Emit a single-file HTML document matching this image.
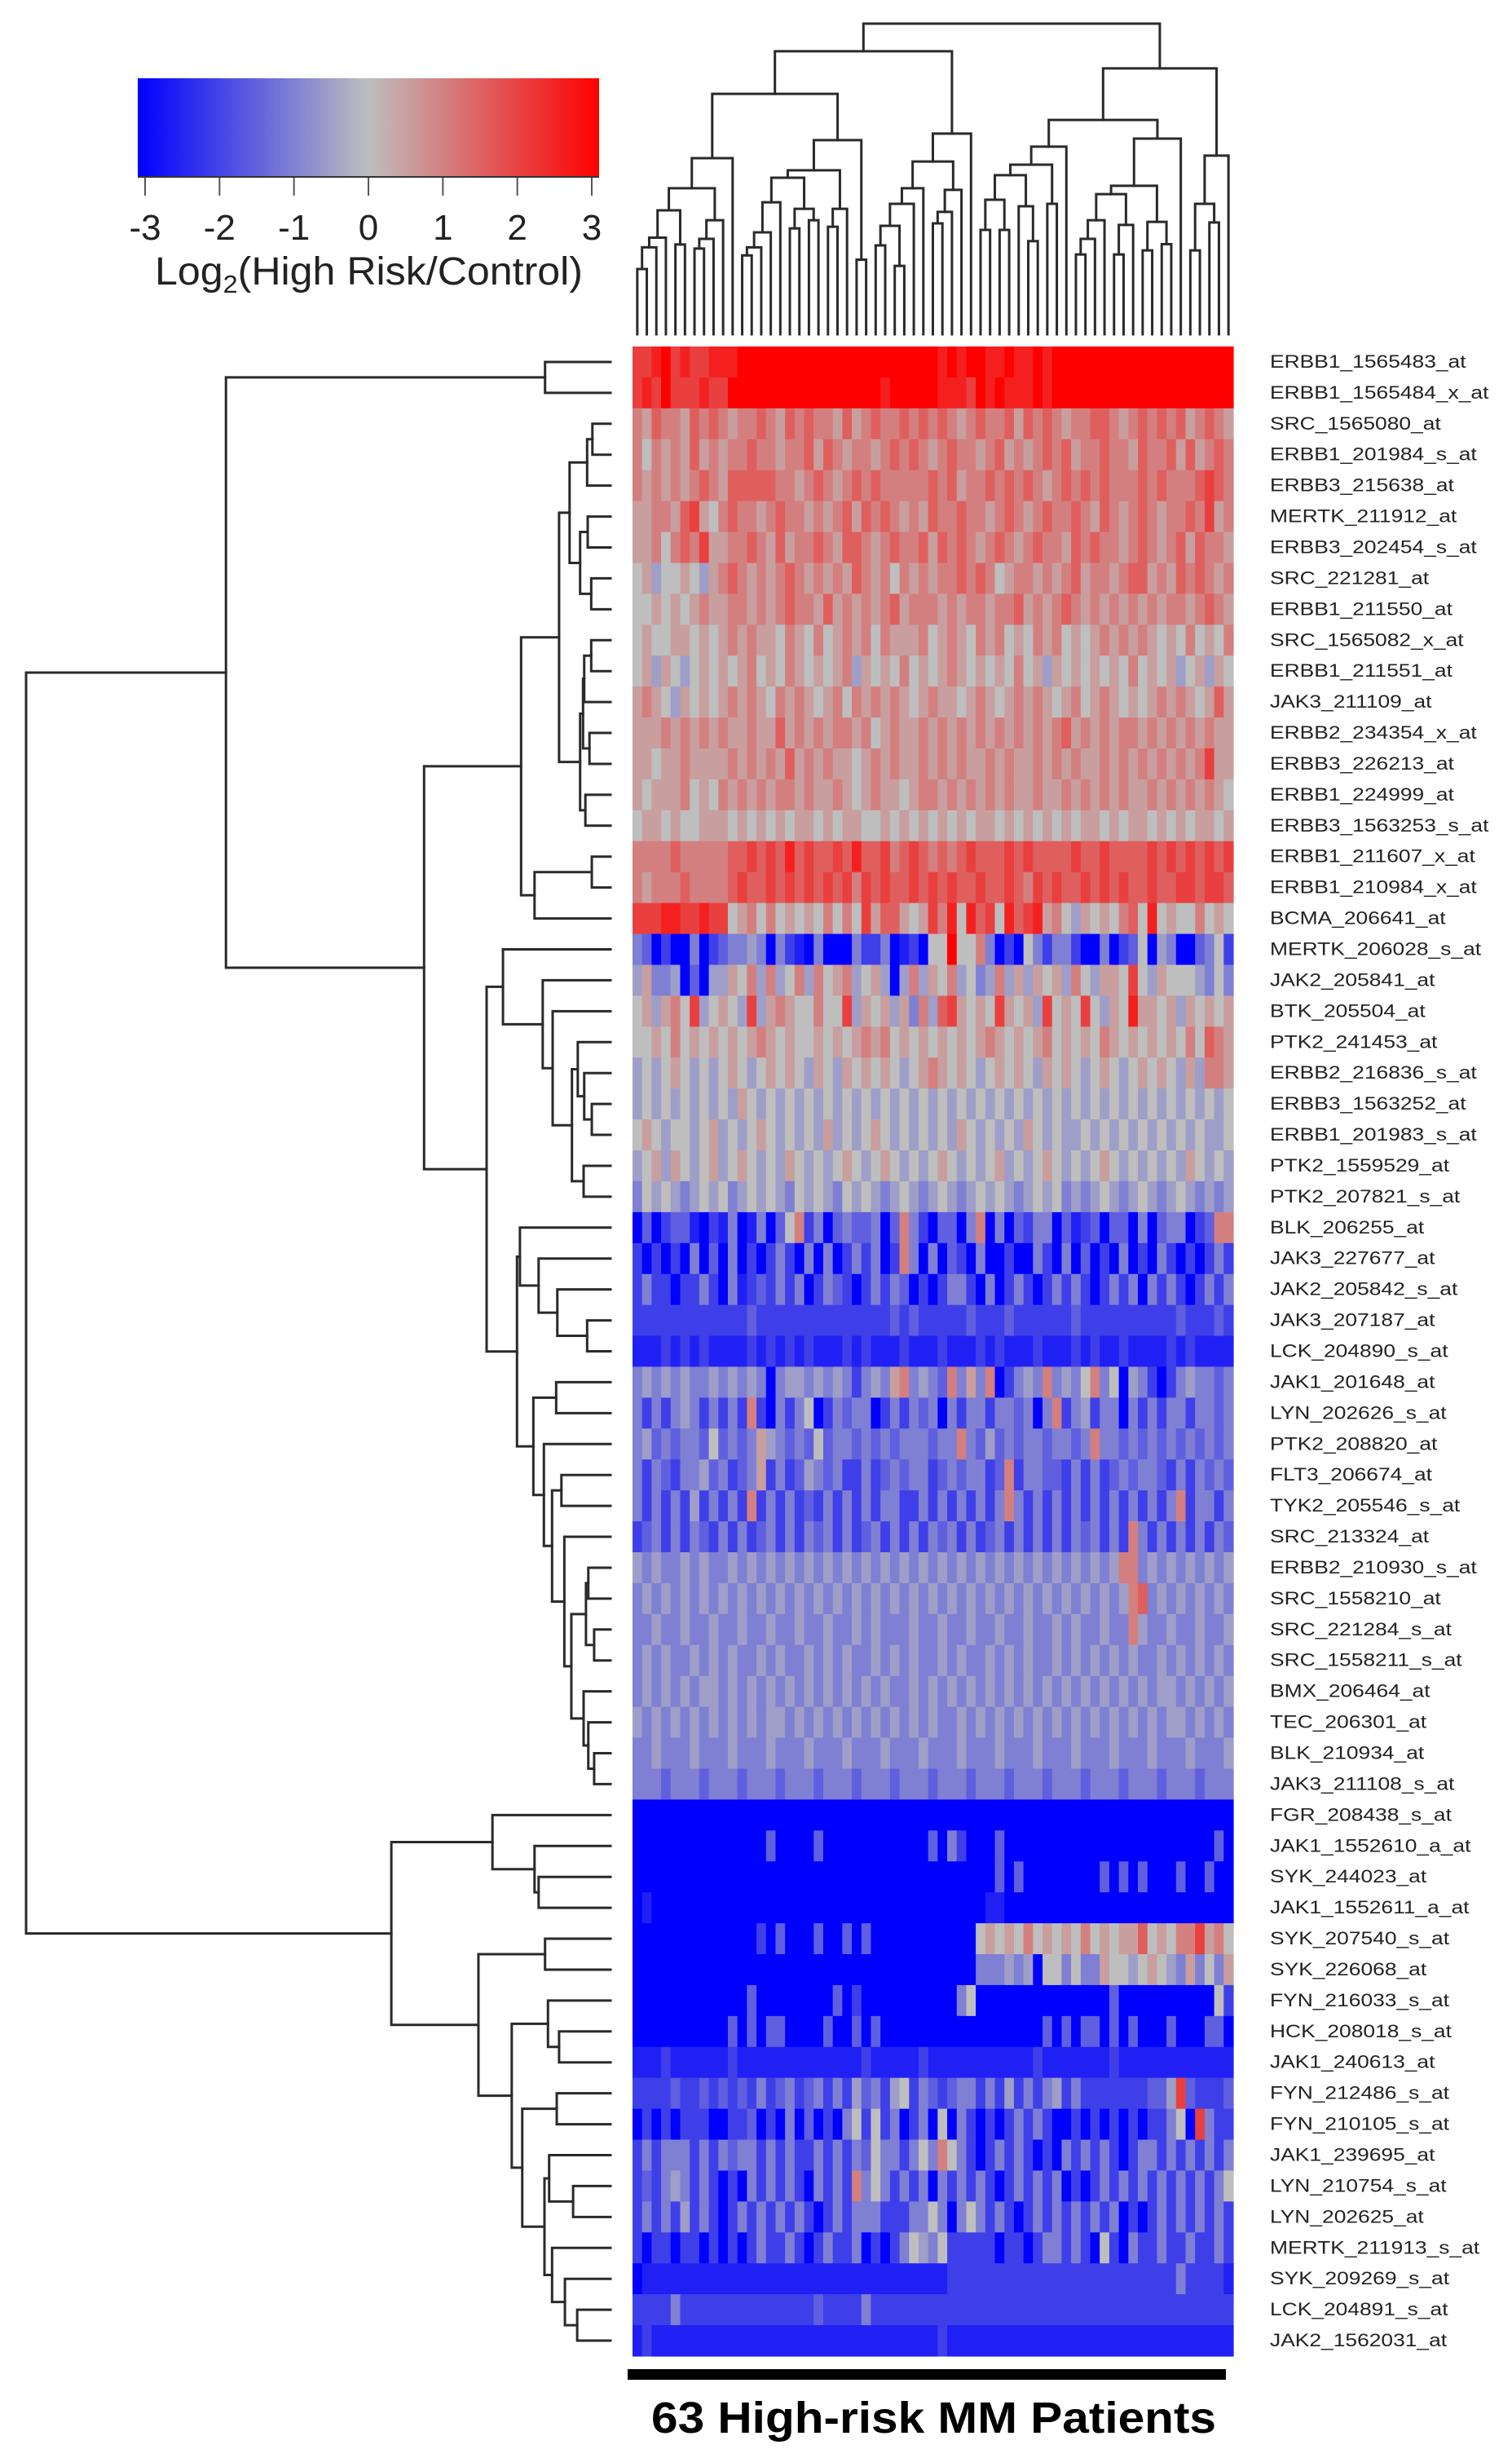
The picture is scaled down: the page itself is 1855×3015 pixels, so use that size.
<!DOCTYPE html>
<html>
<head>
<meta charset="utf-8">
<style>
  html,body{margin:0;padding:0;background:#fff;}
  svg{display:block;}
  text{font-family:"Liberation Sans", Arial, sans-serif;}
</style>
</head>
<body>
<svg id="chart" width="1855" height="3015" viewBox="0 0 1855 3015" xmlns="http://www.w3.org/2000/svg">
  <defs>
    <linearGradient id="cbar" x1="0" x2="1" y1="0" y2="0">
      <stop offset="0" stop-color="#0000ff"/>
      <stop offset="0.5" stop-color="#bebebe"/>
      <stop offset="1" stop-color="#ff0000"/>
    </linearGradient>
  </defs>
  <g>
    <rect x="169" y="96" width="566" height="122" fill="url(#cbar)"/>
    <line x1="169" y1="217" x2="735" y2="217" stroke="#333" stroke-width="2"/>
    <g id="legendTicks"></g>
    <text x="190" y="349" font-size="48" fill="#222" textLength="525" lengthAdjust="spacingAndGlyphs">Log<tspan font-size="31" dy="10">2</tspan><tspan dy="-10">(High Risk/Control)</tspan></text>
  </g>
  <g id="colDendro"></g>
  <g id="rowDendro"></g>
  <g id="heat"></g>
  <g id="rowLabelsG"></g>
  <rect x="770" y="2906" width="734" height="13" fill="#000"/>
  <text x="799" y="2984" font-size="54" font-weight="bold" fill="#000" textLength="693" lengthAdjust="spacingAndGlyphs">63 High-risk MM Patients</text>
</svg>
<script>
// ---------- data ----------
const rowLabels = ["ERBB1_1565483_at","ERBB1_1565484_x_at","SRC_1565080_at","ERBB1_201984_s_at","ERBB3_215638_at","MERTK_211912_at","ERBB3_202454_s_at","SRC_221281_at","ERBB1_211550_at","SRC_1565082_x_at","ERBB1_211551_at","JAK3_211109_at","ERBB2_234354_x_at","ERBB3_226213_at","ERBB1_224999_at","ERBB3_1563253_s_at","ERBB1_211607_x_at","ERBB1_210984_x_at","BCMA_206641_at","MERTK_206028_s_at","JAK2_205841_at","BTK_205504_at","PTK2_241453_at","ERBB2_216836_s_at","ERBB3_1563252_at","ERBB1_201983_s_at","PTK2_1559529_at","PTK2_207821_s_at","BLK_206255_at","JAK3_227677_at","JAK2_205842_s_at","JAK3_207187_at","LCK_204890_s_at","JAK1_201648_at","LYN_202626_s_at","PTK2_208820_at","FLT3_206674_at","TYK2_205546_s_at","SRC_213324_at","ERBB2_210930_s_at","SRC_1558210_at","SRC_221284_s_at","SRC_1558211_s_at","BMX_206464_at","TEC_206301_at","BLK_210934_at","JAK3_211108_s_at","FGR_208438_s_at","JAK1_1552610_a_at","SYK_244023_at","JAK1_1552611_a_at","SYK_207540_s_at","SYK_226068_at","FYN_216033_s_at","HCK_208018_s_at","JAK1_240613_at","FYN_212486_s_at","FYN_210105_s_at","JAK1_239695_at","LYN_210754_s_at","LYN_202625_at","MERTK_211913_s_at","SYK_209269_s_at","LCK_204891_s_at","JAK2_1562031_at"];
const legendTicks = [-3,-2,-1,0,1,2,3];
const valueLevels = "0123456789abc"; // index i -> log2 value (i-6)/2
const heatRows = [
"aabcabaab bbccccccc ccccccccc cccccbcbc cbbcbbcbc ccccccccc ccccccccc",
"abacaaaba acccccccc ccccccccb cccccbbba cbcbbbcbc ccccccccc ccccccccc",
"879887989 878898798 988797898 898989878 988979898 788998789 898978987",
"868787978 788988788 979878878 989878988 789787898 978898879 889797898",
"878787898 799999887 898789898 888898978 898989878 989898889 898889a98",
"778879a76 898878988 787897989 878798898 878987898 898798789 878898a78",
"7786898a7 788987978 898799878 988979898 789878988 798988789 878979887",
"675667657 898787898 787879878 687878898 986788787 897887899 787989878",
"667676787 788787898 879787878 978887878 878897878 987878787 878878987",
"676677676 787877687 686787868 777867876 878676878 676787878 767686768",
"675765676 767867687 676785767 686767876 767686757 676767686 767567576",
"787657676 787876878 767868787 876787767 876787876 786787676 787876797",
"777878787 877877978 787887867 877878787 878787878 978787887 878787877",
"776778777 787878797 878776787 877878787 787877878 787787878 787878a77",
"767778676 878787887 877876787 767887878 787877877 878787877 878787876",
"677676677 767676767 767677667 676767676 776767676 767767677 676767767",
"888898888 899a9a9b9 a99a9b99a 89a98989a 999a9a999 9a99a9999 a9a9a9a9a",
"878889888 89a99a9a9 a9a9a8a9a 99a9a9a99 a99a98a9a 99a9a9a99 a99aa9aa9",
"aaabbaaba a67868676 768686a79 9767a8b6b 9a6b9ab78 657676896 b67668676",
"430200402 344540421 040004224 012066c66 840206424 420040236 054003462",
"574450305 576858568 586785675 058576856 458575767 5865776a6 576665464",
"675786a56 765a57876 6866a5767 574859a76 76a7675a6 76a6576b7 767576767",
"667686767 676787676 676767878 676767676 787676786 767687676 767686987",
"565676565 676567676 576576767 656787676 567676576 765676567 676575887",
"565656565 657656565 656565656 565656565 656565656 565656565 656565656",
"676566567 565676565 657565676 565656576 565657656 556565656 565656556",
"567576567 567656576 565676567 656567656 567565676 565676565 656576565",
"465654565 645656546 565465654 565456545 656545656 454565456 545654545",
"030233102 140140368 240343340 384203304 804032440 312303304 034402388",
"202020403 040202420 404024240 284040320 400200420 403020402 042020242",
"242202242 041232424 024320242 430202442 040242024 242024240 424202424",
"222222222 222322222 222222222 323222223 222322222 232222222 222322232",
"111212121 111212121 211121211 121112111 212111211 121211211 112121111",
"454545445 454540455 454542454 784543847 480245484 546846054 202454434",
"424245424 242820424 602434402 424340424 424434048 245244042 424424434",
"453434436 343475434 363443434 344434484 353434434 434844343 434343434",
"424324453 423472423 543422423 434423434 423824433 242423434 432424343",
"424242524 242824242 324242424 422424242 424842424 242424242 424824424",
"234242432 424234242 434242342 424243424 234242424 243424284 242424243",
"545445454 454545454 545454545 454545454 545454545 454545884 545454545",
"454545454 545454545 454545454 545454545 454545454 545454589 454545454",
"445445445 445445445 445445454 445445445 445445445 454454485 445445445",
"454544545 454454544 545454454 545445454 454545445 454545454 454545454",
"454545455 454545454 545454545 445454545 454545454 545454545 455454545",
"545454545 454545545 454545454 545454454 545454545 454545454 545545454",
"445444544 454445444 544454445 444544454 445444544 454445444 544454445",
"444344434 443444344 434443444 344434443 444344434 443444344 434443444",
"000000000 000000000 000000000 000000000 000000000 000000000 000000000",
"000000000 000003000 030000000 000030420 003000000 000000000 000000030",
"000000000 000000000 000000000 000000000 003030000 000030303 000300300",
"010000000 000000000 000000000 000000000 011000000 000000000 000000000",
"000000000 000020300 030030300 000000000 676768676 768676779 67688a786",
"000000000 000000000 000000000 000000000 444545066 464476656 765474647",
"000000000 000300000 000302000 000000046 000000000 000003000 000000062",
"000000000 030303300 003003030 000000000 000000030 303303030 003000330",
"111211111 121111111 111111211 111211111 111111211 111112111 111111111",
"222232232 323242342 342425342 562432344 242524245 242222222 335a32223",
"020202220 022302040 302046262 402406042 020242420 020202020 22460a422",
"242444242 434424242 242424364 424648642 024242020 424242024 424242424",
"232454242 020424242 042428464 242404242 420242424 020242424 242424246",
"242425242 024242424 202424442 224464046 424202424 242424020 242424242",
"202202202 020242242 024224020 246546222 220220244 242062042 242242242",
"011111111 111111111 111111111 111111222 222222222 222222222 222422221",
"222242222 222222222 232222422 222222222 222222222 222222222 222222222",
"121111111 111111111 111111111 111112111 111111111 111111111 111111111"
];
// row dendrogram: [height (0..1), left, right]; leaves = row numbers (1-based)
const rowTree = [1.0,
  [0.658,
    [0.112, 1, 2],
    [0.319,
      [0.153,
        [0.088,
          [0.070, [0.040, [0.031, 3, 4], 5], [0.052, [0.039, 6, 7], [0.033, 8, 9]]],
          [0.052, [0.047, [0.045, [0.033, 10, 11], 12], [0.036, 13, 14]], [0.043, 15, 16]]],
        [0.130, [0.032, 17, 18], 19]],
      [0.212,
        [0.184, 20, [0.116, 21, [0.099, 22, [0.066, [0.056, 23, [0.045, 24, [0.032, 25, 26]]], [0.046, 27, 28]]]]],
        [0.160,
          [0.155, 29, [0.123, 30, [0.091, 31, [0.040, 32, 33]]]],
          [0.132, [0.093, 34, 35], [0.114, 36, [0.100, [0.084, 37, 38], [0.079, 39, [0.067, [0.042, [0.038, 40, 41], [0.028, 42, 43]], [0.046, 44, [0.038, 45, [0.028, 46, 47]]]]]]]]]]]],
  [0.375,
    [0.202, 48, [0.130, 49, [0.123, 50, 51]]],
    [0.226, [0.112, 52, 53],
      [0.169, [0.107, 54, [0.088, 55, 56]],
        [0.151, [0.092, 57, 58], [0.113, [0.105, 59, [0.064, 60, 61]], [0.100, 62, [0.078, 63, [0.057, 64, 65]]]]]]]]];
// column dendrogram: [height (0..1), left, right]; leaves = patient numbers
const colTree = [1.0,
  [0.911,
    [0.774,
      [0.567,
        [0.47,
          [0.399, [0.311, [0.28, [0.21, 1, 2], 3], 4], [0.289, 5, 6]],
          [0.367, [0.307, [0.276, 7, 8], 9], 10]],
        11],
      [0.625,
        [0.528,
          [0.504, [0.425, [0.328, [0.28, [0.254, 12, 13], 14], 15], 16], [0.404, [0.341, 17, 18], [0.367, 19, 20]]],
          [0.404, [0.346, 21, 22], 23]],
        [0.24, 24, 25]]],
    [0.646,
      [0.556,
        [0.47, [0.42, [0.349, [0.286, 26, 27], [0.22, 28, 29]], 30], 31],
        [0.465, [0.394, [0.357, 32, 33], 34], 35]],
      36]],
  [0.856,
    [0.69,
      [0.604, [0.546, [0.512, [0.433, [0.336, 37, 38], [0.336, 39, 40]], [0.412, 41, [0.3, 42, 43]]], [0.42, 44, 45]], 46],
      [0.63, [0.478, [0.451, [0.367, [0.307, [0.257, 47, 48], 49], 50], [0.352, [0.257, 51, 52], 53]], [0.362, [0.27, 54, 55], [0.29, 56, 57]]], 58]],
    [0.575, [0.42, [0.27, 59, 60], [0.36, 61, 62]], 63]]];

// ---------- layout ----------
const NS = "http://www.w3.org/2000/svg";
const HX0 = 776, HX1 = 1513, HY0 = 425, HY1 = 2890;
const nRows = rowLabels.length, nCols = 63;
const cellW = (HX1 - HX0) / nCols, cellH = (HY1 - HY0) / nRows;
const xCol = c => HX0 + c * cellW;
const yRow = r => HY0 + r * cellH;
const legX = v => 178 + (v + 3) * (726 - 178) / 6;
const rowDx = h => 749 - h * 717;
const colDy = h => 410 - h * 381;

function mk(tag, attrs, parent) {
  const e = document.createElementNS(NS, tag);
  for (const k in attrs) e.setAttribute(k, attrs[k]);
  parent.appendChild(e);
  return e;
}
function colorOf(v) {
  const t = Math.max(0, Math.min(1, (v + 3) / 6));
  let a, b, u;
  if (t < 0.5) { a = [0, 0, 255]; b = [190, 190, 190]; u = t / 0.5; }
  else { a = [190, 190, 190]; b = [255, 0, 0]; u = (t - 0.5) / 0.5; }
  const c = a.map((x, i) => Math.round(x + (b[i] - x) * u));
  return `rgb(${c[0]},${c[1]},${c[2]})`;
}

const lt = document.getElementById("legendTicks");
legendTicks.forEach(v => {
  const l = mk("line", {x1: legX(v), x2: legX(v), y1: 218, y2: 240, stroke: "#555", "stroke-width": 2}, lt);
  
  
  const t = mk("text", {x: legX(v), y: 294, "font-size": 44, "text-anchor": "middle", fill: "#222"}, lt);
  
  
  t.textContent = String(v);
});

const heat = document.getElementById("heat");
heatRows.forEach((str, r) => {
  let s = str.replace(/\s+/g, "");
  while (s.length < nCols) s += s[s.length - 1];
  for (let c = 0; c < nCols; c++) {
    const v = (valueLevels.indexOf(s[c]) - 6) / 2;
    const cell = mk("rect", {x: xCol(c).toFixed(2), y: yRow(r).toFixed(2), width: (cellW + 0.6).toFixed(2), height: (cellH + 0.6).toFixed(2), fill: colorOf(v)}, heat);
    
    
  }
});

const rl = document.getElementById("rowLabelsG");
rowLabels.forEach((name, r) => {
  const cy = yRow(r) + cellH / 2 + 7;
  const t = mk("text", {x: 0, y: 0, "font-size": 22, fill: "#222", transform: `translate(1558,${cy.toFixed(1)}) scale(1.2,1)`}, rl);
  
  
  t.textContent = name;
});

const STROKE = {stroke: "#2a2a2a", "stroke-width": 3, fill: "none", "stroke-linecap": "square"};
function drawRow(node, g) {
  if (typeof node === "number") return {pos: yRow(node - 1) + cellH / 2, x: 749};
  const a = drawRow(node[1], g), b = drawRow(node[2], g);
  const x = rowDx(node[0]);
  const p = mk("path", Object.assign({d: `M${a.x},${a.pos}H${x}V${b.pos}H${b.x}`}, STROKE), g);
  
  
  return {pos: (a.pos + b.pos) / 2, x: x};
}
function drawCol(node, g) {
  if (typeof node === "number") return {pos: xCol(node - 1) + cellW / 2, y: 410};
  const a = drawCol(node[1], g), b = drawCol(node[2], g);
  const y = colDy(node[0]);
  const p = mk("path", Object.assign({d: `M${a.pos},${a.y}V${y}H${b.pos}V${b.y}`}, STROKE), g);
  
  
  return {pos: (a.pos + b.pos) / 2, y: y};
}
drawRow(rowTree, document.getElementById("rowDendro"));
drawCol(colTree, document.getElementById("colDendro"));
</script>
</body>
</html>
